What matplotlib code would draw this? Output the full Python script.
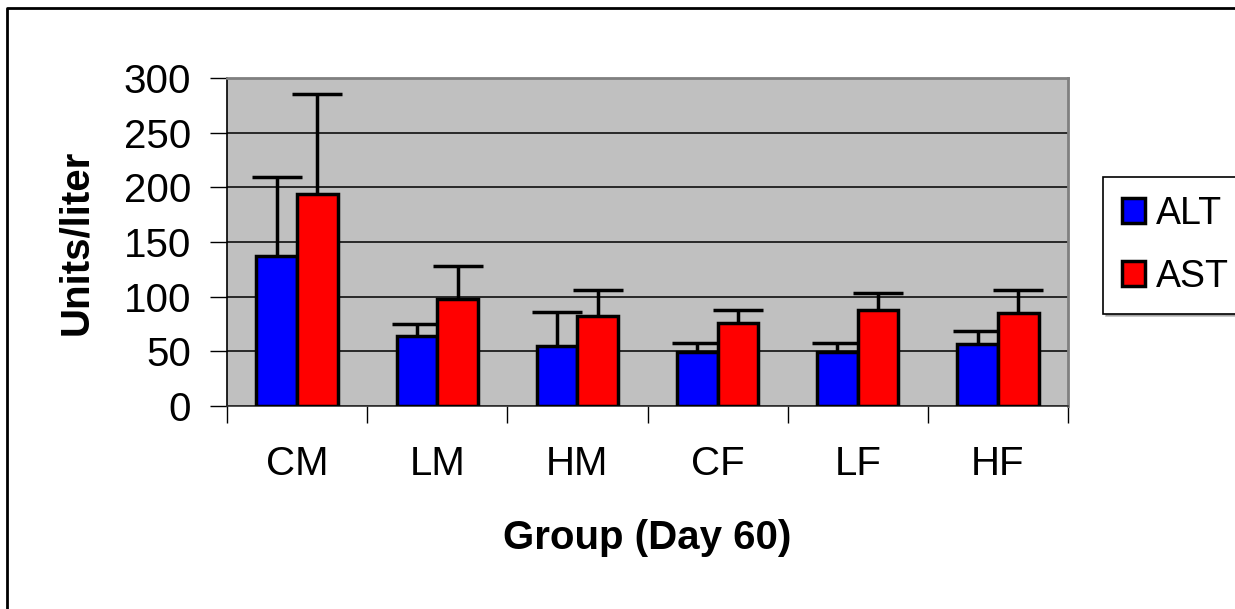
import numpy as np
import matplotlib.pyplot as plt
from matplotlib.patches import Rectangle
from matplotlib.lines import Line2D

groups = ['CM', 'LM', 'HM', 'CF', 'LF', 'HF']
alt_mean = [137, 64, 55, 49, 49, 57]
alt_err = [72, 11, 31, 9, 9, 12]
ast_mean = [194, 98, 82, 76, 88, 85]
ast_err = [91, 30, 24, 12, 15, 21]

plt.rcParams['font.family'] = ['Liberation Sans', 'DejaVu Sans']

W, H = 1235, 609
fs = 29
fig = plt.figure(figsize=(W / 100, H / 100), dpi=100)
ax = fig.add_axes([227 / W, (H - 406) / H, (1068 - 227) / W, (406 - 78) / H])
ax.set_facecolor('#C0C0C0')

x = np.arange(len(groups))
bw = 0.29
zeros = np.zeros(len(groups))
for off, mean, err, col, lab in [(-bw / 2, alt_mean, alt_err, '#0000FF', 'ALT'),
                                  (bw / 2, ast_mean, ast_err, '#FF0000', 'AST')]:
    ax.bar(x + off, mean, bw, color=col, edgecolor='black', linewidth=2.5,
           label=lab, zorder=3)
    eb = ax.errorbar(x + off, mean, yerr=[zeros, err], fmt='none', ecolor='black',
                     elinewidth=2.5, capsize=18, capthick=2.5, zorder=2)
    # only upper caps are shown
    eb[1][0].set_visible(False)

ax.set_xlim(-0.5, len(groups) - 0.5)
ax.set_ylim(0, 300)
ax.set_yticks(range(0, 301, 50))
ax.yaxis.grid(True, color='black', linewidth=1.1, zorder=0)
ax.set_axisbelow(True)

# category labels between group boundary ticks
ax.set_xticks(np.arange(-0.5, len(groups)), minor=False)
ax.set_xticklabels([])
ax.set_xticks(x, minor=True)
ax.set_xticklabels(groups, minor=True, fontsize=fs)
ax.tick_params(axis='x', which='minor', length=0, pad=28)
ax.tick_params(axis='x', which='major', length=12, width=1, color='black')
ax.tick_params(axis='y', labelsize=fs, length=12, width=1, pad=14)

for s in ['top', 'right']:
    ax.spines[s].set_color('#808080')
    ax.spines[s].set_linewidth(2)
ax.spines['left'].set_color('black')
ax.spines['bottom'].set_color('#303030')
ax.spines['left'].set_linewidth(1.2)
ax.spines['bottom'].set_linewidth(1.2)

ax.set_ylabel('Units/liter', fontsize=fs, fontweight='bold', labelpad=20)
ax.set_xlabel('Group (Day 60)', fontsize=fs, fontweight='bold', labelpad=26)

handles = [Rectangle((0, 0), 1, 1, facecolor='#0000FF', edgecolor='black', linewidth=2.5),
           Rectangle((0, 0), 1, 1, facecolor='#FF0000', edgecolor='black', linewidth=2.5)]
leg = fig.legend(handles, ['ALT', 'AST'], loc='upper left',
                 bbox_to_anchor=(1103 / W, 1 - 177 / H), fontsize=27,
                 frameon=True, fancybox=False, edgecolor='black',
                 handlelength=0.62, handleheight=0.62, handletextpad=0.3,
                 labelspacing=0.72, borderpad=0.5, borderaxespad=0,
                 shadow={'color': '#808080'})
leg.get_frame().set_linewidth(1.2)

# outer chart frame (left and top edges visible)
fig.add_artist(Line2D([7 / W, 7 / W, 1.0], [0.0, 1 - 8 / H, 1 - 8 / H],
                      transform=fig.transFigure, color='black', linewidth=2))

fig.savefig('out.png', dpi=100, facecolor='white')
